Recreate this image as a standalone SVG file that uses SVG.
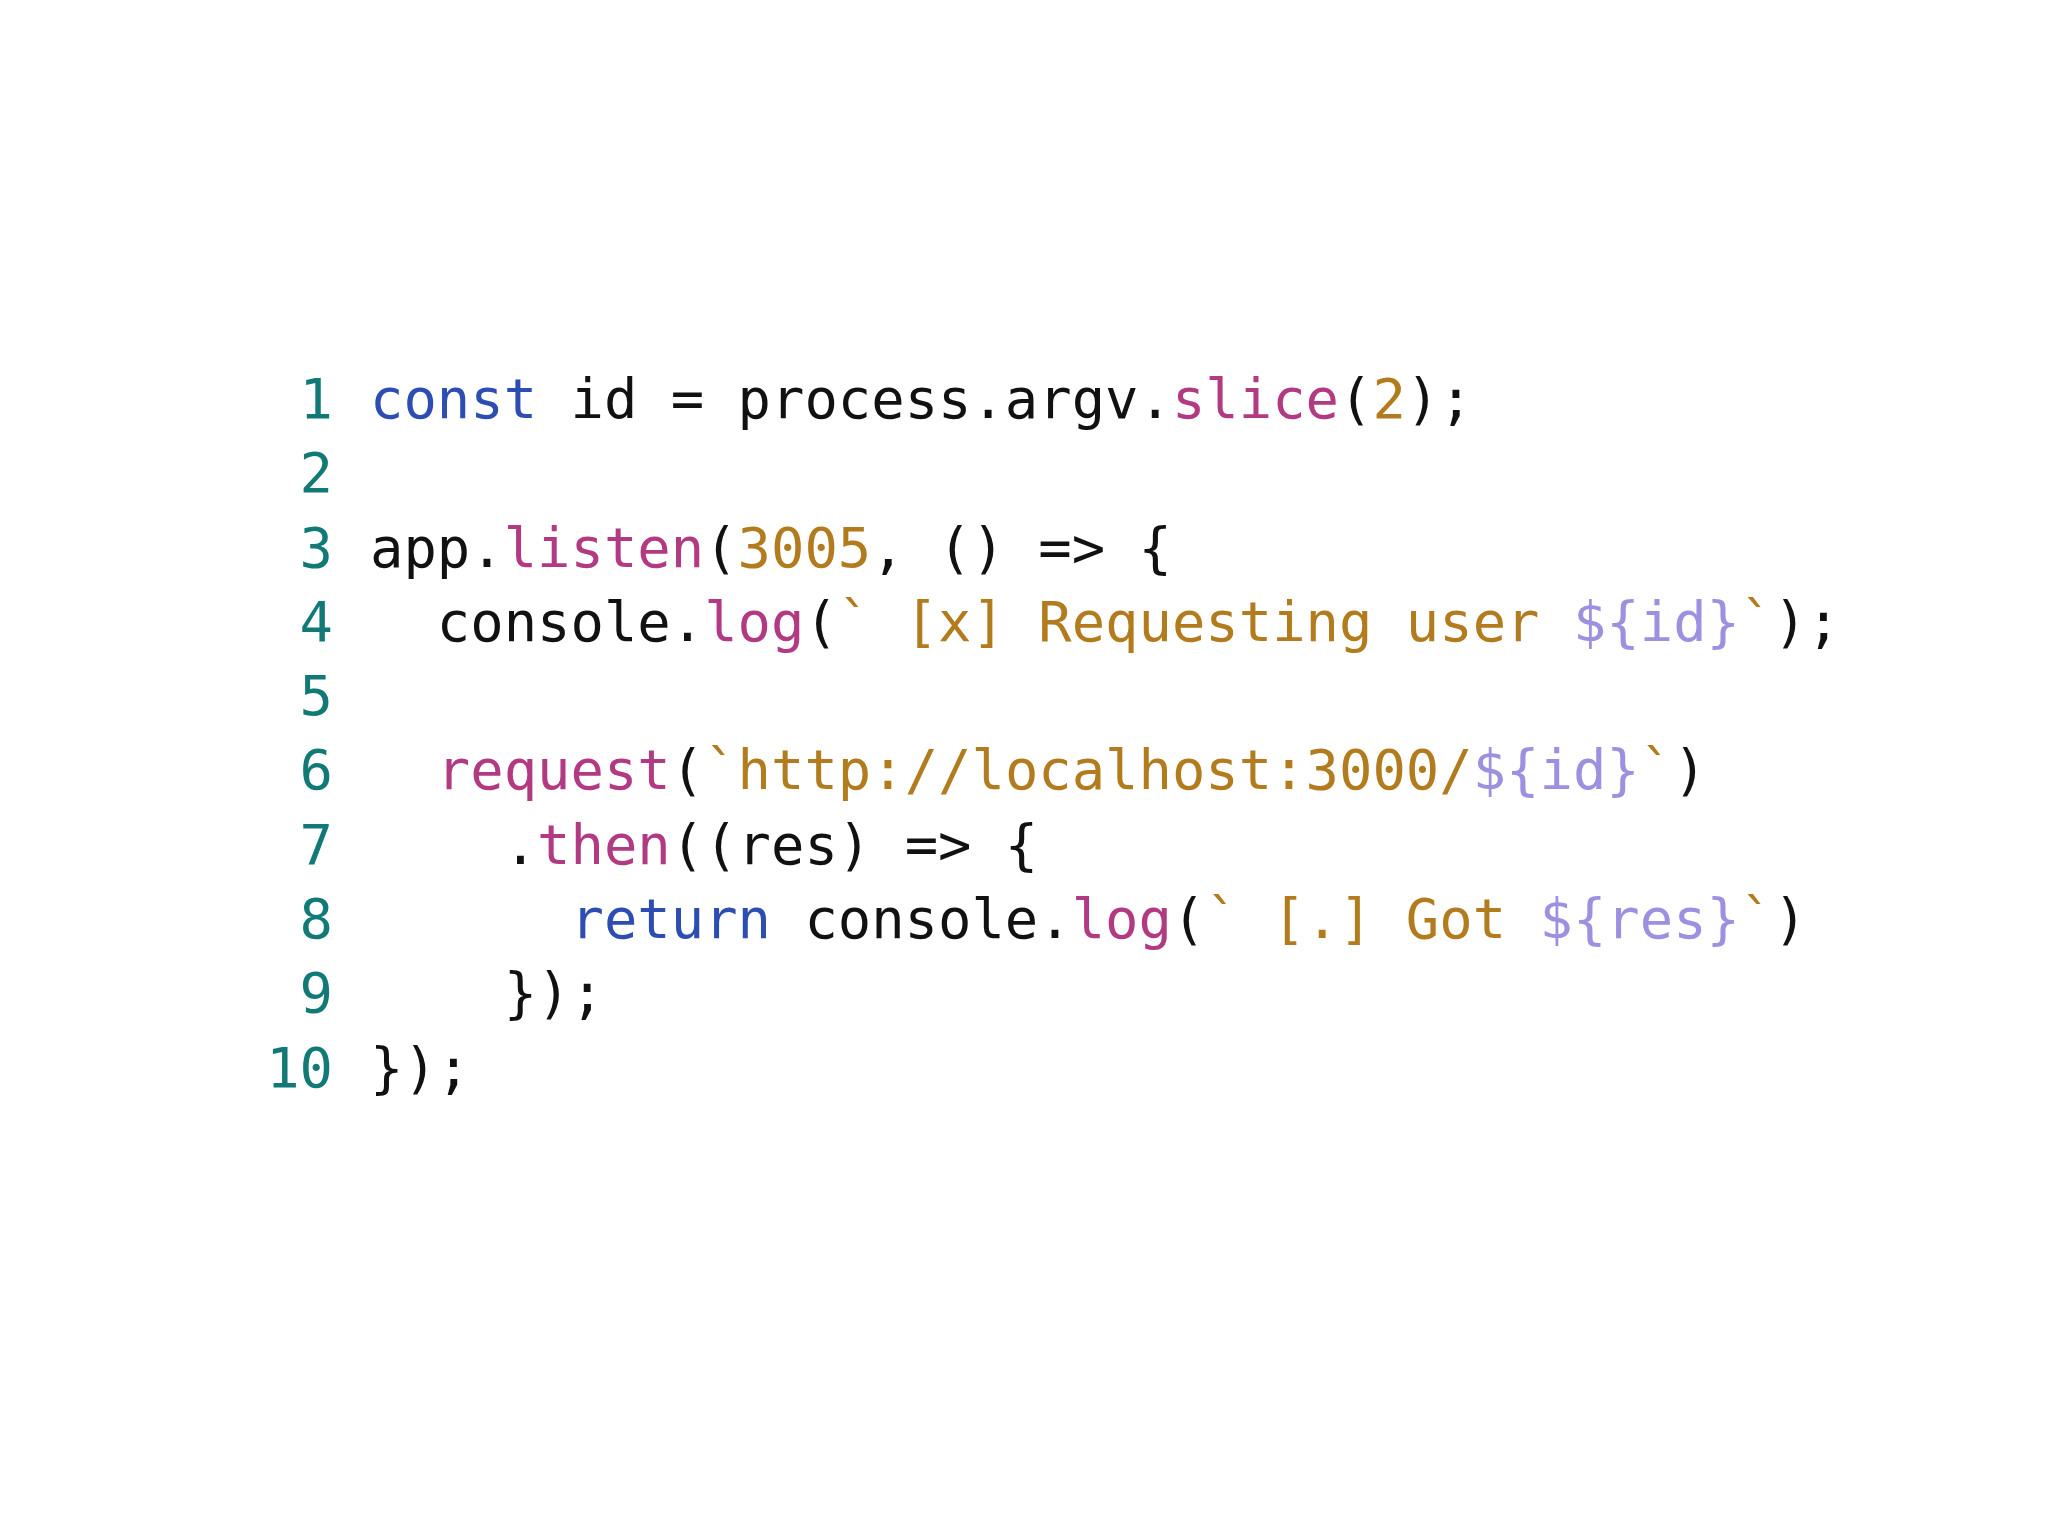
<svg xmlns="http://www.w3.org/2000/svg" width="2048" height="1536" viewBox="0 0 2048 1536">
<style>
text{font-family:"DejaVu Sans Mono","Liberation Mono",monospace;font-size:55.5px;white-space:pre;fill:#111}
.n{fill:#127a76;text-anchor:end}
.k{fill:#2d4db2}
.f{fill:#b23a82}
.s{fill:#b27c1e}
.i{fill:#9d90e0}
</style>
<rect width="2048" height="1536" fill="#fff"/>
<g id="numbers">
<text class="n" x="333" y="418">1</text>
<text class="n" x="333" y="492">2</text>
<text class="n" x="333" y="567">3</text>
<text class="n" x="333" y="641">4</text>
<text class="n" x="333" y="715">5</text>
<text class="n" x="333" y="789">6</text>
<text class="n" x="333" y="864">7</text>
<text class="n" x="333" y="938">8</text>
<text class="n" x="333" y="1012">9</text>
<text class="n" x="333" y="1087">10</text>
</g>
<g id="code" xml:space="preserve">
<text x="370" y="418"><tspan class="k">const</tspan> id = process.argv.<tspan class="f">slice</tspan>(<tspan class="s">2</tspan>);</text>
<text x="370" y="567">app.<tspan class="f">listen</tspan>(<tspan class="s">3005</tspan>, () =&gt; {</text>
<text x="370" y="641">  console.<tspan class="f">log</tspan>(<tspan class="s">` [x] Requesting user </tspan><tspan class="i">${id}</tspan><tspan class="s">`</tspan>);</text>
<text x="370" y="789">  <tspan class="f">request</tspan>(<tspan class="s">`http://localhost:3000/</tspan><tspan class="i">${id}</tspan><tspan class="s">`</tspan>)</text>
<text x="370" y="864">    .<tspan class="f">then</tspan>((res) =&gt; {</text>
<text x="370" y="938">      <tspan class="k">return</tspan> console.<tspan class="f">log</tspan>(<tspan class="s">` [.] Got </tspan><tspan class="i">${res}</tspan><tspan class="s">`</tspan>)</text>
<text x="370" y="1012">    });</text>
<text x="370" y="1087">});</text>
</g>
</svg>
